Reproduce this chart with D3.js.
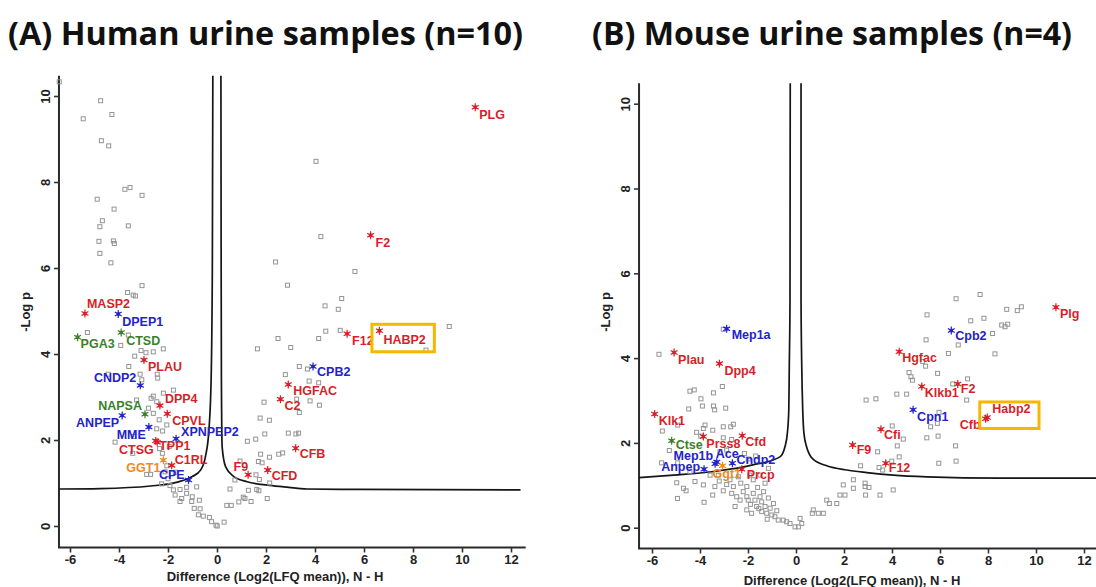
<!DOCTYPE html>
<html>
<head>
<meta charset="utf-8">
<script src="https://cdn.jsdelivr.net/npm/d3@7"></script>
<style>
  body { margin: 0; background: #fff; }
  svg { display: block; }
  .tick text, .axis-title { font-family: "Liberation Sans", Arial, sans-serif; font-weight: bold; font-size: 13px; fill: #222; }
  .tick line { stroke: #333; stroke-width: 1.6; }
  .title { font-family: "Open Sans", "Noto Sans", sans-serif; font-weight: bold; font-size: 32px; fill: #111; }
  .hit-label { font-family: "Liberation Sans", Arial, sans-serif; font-weight: bold; font-size: 12.5px; }
</style>
</head>
<body>
<svg id="chart" width="1096" height="587"></svg>
<script>
// ticks shared by both panels
const xTicks = [-6, -4, -2, 0, 2, 4, 6, 8, 10, 12];
const yTicks = [0, 2, 4, 6, 8, 10];

// protease class -> colour
const classes = ["serine", "metallo", "aspartic", "threonine"];
const classColors = ["#d61f29", "#2323c9", "#3b7f2b", "#ee8a1f"];

// ---------- (A) human ----------
const humanBg = [
  [-6.44,10.33],[-4.75,9.89],[-5.46,9.47],[-4.29,9.57],[-4.72,8.96],[-4.42,8.84],[-3.76,7.83],[-3.55,7.87],
  [-3.06,7.69],[-4.89,7.60],[-4.20,7.37],[-4.68,7.10],[-4.78,6.96],[-3.62,6.98],[-4.82,6.62],[-4.23,6.63],
  [-4.19,6.57],[-4.78,6.34],[-4.33,6.12],[-3.06,5.59],[-3.65,5.43],[-3.42,5.37],[-3.33,5.35],
  [2.39,6.14],[4.04,8.48],[4.24,6.73],[5.63,5.92],[2.88,5.60],[5.09,5.29],[4.41,5.12],[4.95,5.04],
  [4.44,4.53],[5.03,4.55],[9.48,4.64],[8.53,4.09],[2.49,4.36],[4.15,4.36],[1.65,4.12],[3.01,4.15],
  [3.36,3.71],[3.69,3.65],[2.79,3.52],[3.76,3.37],[4.15,3.33],[3.25,2.95],[1.92,2.88],[3.80,2.91],
  [4.18,2.81],[3.36,2.64],[1.76,2.51],[2.14,2.46],[1.95,2.14],[2.91,2.16],[3.22,2.14],[3.33,2.16],
  [1.58,2.02],[1.24,1.97],[1.78,1.67],[2.14,1.60],[2.52,1.67],[2.68,1.70],[0.94,1.51],[1.69,1.50],
  [1.84,1.47],[1.59,1.19],[0.73,1.07],[1.73,1.08],[2.15,1.00],[0.53,0.86],[1.28,0.83],[1.62,0.85],
  [1.71,0.82],[2.05,0.64],[1.07,0.67],[1.14,0.64],[1.39,0.57],[0.89,0.56],[0.40,0.48],[0.58,0.48],
  [0.01,0.00],[0.29,0.09],
  [-5.29,4.50],[-3.62,4.44],[-3.93,4.20],[-3.10,4.08],[-2.90,4.03],[-2.60,4.05],[-2.19,4.12],[-3.36,3.95],
  [-3.60,3.71],[-4.44,3.53],[-3.14,3.53],[-2.44,3.53],[-2.42,3.44],[-3.07,3.40],[-1.78,3.16],[-2.19,3.09],
  [-2.60,3.02],[-2.69,2.97],[-3.28,2.93],[-2.46,2.89],[-2.80,2.74],[-2.60,2.62],[-2.36,2.47],[-2.46,2.26],
  [-2.22,2.21],[-2.05,2.35],[-4.16,1.95],[-3.41,2.08],[-3.44,1.69],[-2.23,1.69],[-1.95,1.85],[-2.35,1.80],
  [-2.12,1.26],[-2.05,1.40],[-1.70,1.25],[-2.87,1.20],[-2.71,1.20],[-2.26,0.98],[-1.92,0.94],[-2.00,1.10],
  [-1.78,0.84],[-1.51,0.85],[-1.24,0.90],[-0.83,0.91],[-1.71,0.72],[-1.24,0.76],[-1.01,0.68],[-1.44,0.64],
  [-1.51,0.57],[-1.03,0.57],[-0.72,0.60],[-0.93,0.41],[-0.69,0.40],[-0.76,0.26],[-0.56,0.23],[-0.31,0.20],
  [-0.22,0.10],[-0.04,0.02]
];
const humanHits = [
  {name: "PLG", x: 10.54, y: 9.74, cls: "serine"},
  {name: "F2", x: 6.27, y: 6.76, cls: "serine"},
  {name: "HABP2", x: 6.63, y: 4.54, cls: "serine"},
  {name: "F12", x: 5.31, y: 4.47, cls: "serine"},
  {name: "CPB2", x: 3.92, y: 3.71, cls: "metallo"},
  {name: "HGFAC", x: 2.91, y: 3.29, cls: "serine"},
  {name: "C2", x: 2.59, y: 2.95, cls: "serine"},
  {name: "CFB", x: 3.21, y: 1.81, cls: "serine"},
  {name: "CFD", x: 2.07, y: 1.30, cls: "serine"},
  {name: "F9", x: 1.27, y: 1.19, cls: "serine"},
  {name: "MASP2", x: -5.39, y: 4.94, cls: "serine"},
  {name: "DPEP1", x: -4.03, y: 4.93, cls: "metallo"},
  {name: "PGA3", x: -5.69, y: 4.39, cls: "aspartic"},
  {name: "CTSD", x: -3.91, y: 4.50, cls: "aspartic"},
  {name: "PLAU", x: -2.98, y: 3.86, cls: "serine"},
  {name: "CNDP2", x: -3.13, y: 3.27, cls: "metallo"},
  {name: "DPP4", x: -2.33, y: 2.80, cls: "serine"},
  {name: "NAPSA", x: -2.94, y: 2.60, cls: "aspartic"},
  {name: "ANPEP", x: -3.87, y: 2.57, cls: "metallo"},
  {name: "CPVL", x: -2.03, y: 2.61, cls: "serine"},
  {name: "MME", x: -2.78, y: 2.30, cls: "metallo"},
  {name: "XPNPEP2", x: -1.67, y: 2.03, cls: "metallo"},
  {name: "CTSG", x: -2.50, y: 1.98, cls: "serine"},
  {name: "TPP1", x: -2.44, y: 1.95, cls: "serine"},
  {name: "GGT1", x: -2.19, y: 1.53, cls: "threonine"},
  {name: "C1RL", x: -1.85, y: 1.41, cls: "serine"},
  {name: "CPE", x: -1.16, y: 1.07, cls: "metallo"}
];
// significance curve
const humanCurveL = [[-6.45,0.86],[-4.76,0.87],[-2.71,0.93],[-1.62,1.02],[-1.01,1.15],[-0.67,1.30],
  [-0.47,1.62],[-0.33,2.23],[-0.24,3.40],[-0.19,6.0],[-0.17,10.47]];
const humanCurveR = [[0.16,10.47],[0.17,6.0],[0.18,3.40],[0.21,1.84],[0.35,1.38],[0.69,1.15],[1.23,1.03],
  [2.05,0.95],[2.73,0.91],[3.68,0.86],[5.79,0.85],[12.39,0.84]];

// ---------- (B) mouse ----------
const mouseBg = [
  [-3.03,4.68],[-5.71,4.09],[-3.07,3.33],[-4.42,3.22],[-4.24,3.25],[-3.44,3.18],[-3.96,3.04],[-4.47,2.80],
  [-3.90,2.87],[-3.44,2.87],[-3.39,2.78],[-2.93,2.82],[-4.93,2.42],[-5.57,2.28],[-3.79,2.42],[-3.86,2.34],
  [-3.47,2.30],[-3.03,2.38],[-2.61,2.44],[-2.72,2.38],[-4.14,2.25],[-3.97,2.16],[-3.03,2.12],[-2.68,2.08],
  [-5.28,1.82],[-3.17,1.79],[-2.89,1.83],[-2.15,1.75],[-1.68,1.69],[-1.99,1.62],[-5.60,1.53],[-4.93,1.53],
  [-4.42,1.32],[-3.58,1.24],[-3.24,1.24],[-2.75,1.13],[-2.40,1.20],[-1.92,1.24],[-1.50,1.24],[-1.15,1.40],
  [-4.97,1.06],[-4.69,0.93],[-4.58,0.87],[-4.94,0.69],[-4.21,1.09],[-3.86,1.01],[-3.83,0.60],[-3.47,0.77],
  [-3.38,0.97],[-3.03,0.87],[-2.89,1.02],[-2.61,0.97],[-2.68,0.81],[-2.47,0.73],[-2.54,0.50],[-2.33,0.65],
  [-2.05,0.97],[-2.05,0.73],[-1.99,0.65],[-1.78,0.81],[-1.71,0.65],[-1.64,0.50],[-1.50,0.73],[-1.43,0.61],
  [-2.05,0.42],[-1.85,0.34],[-1.43,0.38],[-1.29,0.50],[-1.22,0.34],[-1.08,0.46],[-1.01,0.30],[-0.88,0.26],
  [-0.74,0.18],[-0.53,0.18],[-0.39,0.14],[-0.25,0.10],[-0.04,0.02],[0.10,0.02],[0.24,0.10],[0.17,0.22],
  [-0.94,0.57],[-1.29,1.05],[-1.78,1.13],[-1.60,0.95],[-1.35,0.85],[-1.15,0.70],[-1.90,0.55],[-2.20,0.85],
  [-1.55,0.45],[-0.80,0.40],[-1.20,0.20],[-2.30,1.05],[-3.20,1.10],
  [0.72,0.42],[0.68,0.34],[0.93,0.34],[1.14,0.34],[1.28,0.65],[1.39,0.57],[1.70,0.57],[1.83,0.77],
  [2.04,0.77],[1.97,1.01],[2.39,1.13],[2.39,0.93],[2.88,0.97],[2.90,0.77],[2.69,1.46],[2.92,3.01],
  [3.33,3.04],
  [9.39,5.21],[9.22,5.12],[8.78,5.15],[7.83,4.94],[7.28,4.88],[5.46,5.02],[8.57,4.78],[8.71,4.74],
  [8.82,4.80],[8.19,4.58],[6.76,4.31],[5.42,4.43],[8.29,4.10],[6.35,4.11],[5.28,3.92],[5.40,3.81],
  [4.71,3.66],[4.79,3.56],[4.85,3.48],[5.90,3.64],[7.15,3.51],[6.53,3.39],[4.20,3.15],[4.61,3.15],
  [7.11,3.01],[5.96,2.72],[5.89,2.46],[5.61,2.38],[4.01,2.40],[4.47,2.09],[4.22,1.93],[5.45,2.12],
  [5.92,2.16],[6.65,1.93],[3.40,1.79],[4.30,1.67],[3.99,1.57],[3.46,1.42],[3.61,1.36],[5.95,1.52],
  [6.67,1.57],[2.88,1.05],[3.04,0.95],[3.50,0.77],[4.05,0.89],[6.67,5.40],[7.67,5.50]
];
const mouseHits = [
  {name: "Plg", x: 10.83, y: 5.20, cls: "serine"},
  {name: "Cpb2", x: 6.47, y: 4.65, cls: "metallo"},
  {name: "Hgfac", x: 4.30, y: 4.15, cls: "serine"},
  {name: "Klkb1", x: 5.24, y: 3.33, cls: "serine"},
  {name: "F2", x: 6.74, y: 3.39, cls: "serine"},
  {name: "Cpn1", x: 4.88, y: 2.78, cls: "metallo"},
  {name: "Habp2", x: 7.97, y: 2.60, cls: "serine"},
  {name: "Cfb", x: 7.90, y: 2.57, cls: "serine"},
  {name: "Cfi", x: 3.54, y: 2.32, cls: "serine"},
  {name: "F9", x: 2.36, y: 1.95, cls: "serine"},
  {name: "F12", x: 3.74, y: 1.52, cls: "serine"},
  {name: "Mep1a", x: -2.89, y: 4.69, cls: "metallo"},
  {name: "Plau", x: -5.08, y: 4.13, cls: "serine"},
  {name: "Dpp4", x: -3.19, y: 3.87, cls: "serine"},
  {name: "Klk1", x: -5.89, y: 2.68, cls: "serine"},
  {name: "Ctse", x: -5.18, y: 2.05, cls: "aspartic"},
  {name: "Prss8", x: -3.86, y: 2.15, cls: "serine"},
  {name: "Cfd", x: -2.24, y: 2.17, cls: "serine"},
  {name: "Mep1b", x: -3.37, y: 1.51, cls: "metallo"},
  {name: "Ace", x: -3.30, y: 1.55, cls: "metallo"},
  {name: "Cndp2", x: -2.65, y: 1.52, cls: "metallo"},
  {name: "Ggt1", x: -3.06, y: 1.46, cls: "threonine"},
  {name: "Anpep", x: -3.83, y: 1.38, cls: "metallo"},
  {name: "Prcp", x: -2.26, y: 1.38, cls: "serine"}
];
const mouseCurveL = [[-6.54,1.18],[-5.1,1.24],[-3.5,1.32],[-1.8,1.48],[-0.67,1.67],[-0.46,1.91],
  [-0.36,2.23],[-0.30,2.78],[-0.28,3.80],[-0.25,5.37],[-0.24,10.48]];
const mouseCurveR = [[0.21,10.48],[0.21,5.37],[0.24,3.80],[0.28,2.78],[0.33,2.23],[0.44,1.91],[0.72,1.61],
  [1.28,1.46],[2.11,1.36],[2.95,1.30],[4.05,1.24],[5.45,1.20],[8.5,1.17],[12.7,1.17]];

// label placement: [dx, dy, anchor]
const labelPosA = {
  PLG: [4, 12], F2: [5, 12], HABP2: [4, 13], F12: [5, 11], CPB2: [4, 10], HGFAC: [5, 10], C2: [4, 11],
  CFB: [4, 10], CFD: [4, 10], F9: [0, -4, "end"], MASP2: [2, -6], DPEP1: [4, 12], PGA3: [3, 11],
  CTSD: [5, 12], PLAU: [4, 11], CNDP2: [-4, -3, "end"], DPP4: [5, -3], NAPSA: [-3, -4, "end"],
  ANPEP: [-3, 12, "end"], CPVL: [5, 11], MME: [-3, 12, "end"], XPNPEP2: [5, -3], CTSG: [-2, 13, "end"],
  TPP1: [2, 8], GGT1: [-3, 12, "end"], C1RL: [3, -1], CPE: [-4, -1, "end"]
};
const labelPosB = {
  Plg: [4, 11], Cpb2: [4, 9], Hgfac: [3, 10], Klkb1: [3, 10], F2: [3, 9], Cpn1: [4, 11], Habp2: [5, -4],
  Cfb: [-5, 10, "end"], Cfi: [3, 10], F9: [4, 9], F12: [3, 9], Mep1a: [5, 10], Plau: [4, 11], Dpp4: [5, 11],
  Klk1: [4, 11], Ctse: [4, 8], Prss8: [3, 11], Cfd: [3, 10], Mep1b: [-2, -4, "end"], Ace: [-1, -4],
  Cndp2: [4, 1], Ggt1: [-10, 12], Anpep: [-4, 2, "end"], Prcp: [5, 10]
};

const svg = d3.select("#chart");
const color = d3.scaleOrdinal().domain(classes).range(classColors);

function drawPanel(p) {
  const g = svg.append("g");
  const x = d3.scaleLinear().domain([-6, 12]).range(p.xRange);
  const y = d3.scaleLinear().domain([0, 10]).range(p.yRange);

  // frame (L shaped)
  g.append("path")
    .attr("d", `M${x(p.xExt[0])},${y(p.yExt[1])}V${y(p.yExt[0])}H${x(p.xExt[1])}`)
    .attr("fill", "none").attr("stroke", "#2a2a2a").attr("stroke-width", 2);

  const xAxis = g.append("g")
    .attr("transform", `translate(0,${y(p.yExt[0])})`)
    .call(d3.axisBottom(x).tickValues(xTicks).tickSize(5).tickPadding(2).tickFormat(d => String(d)));
  xAxis.select(".domain").remove();

  const yAxis = g.append("g")
    .attr("transform", `translate(${x(p.xExt[0])},0)`)
    .call(d3.axisLeft(y).tickValues(yTicks).tickSize(5));
  yAxis.select(".domain").remove();
  yAxis.selectAll(".tick text")
    .attr("x", null).attr("dy", null)
    .attr("text-anchor", "middle")
    .attr("transform", "translate(-9,0) rotate(-90)");

  g.append("text").attr("class", "axis-title")
    .attr("text-anchor", "middle")
    .attr("transform", `translate(${p.yTitle[0]},${p.yTitle[1]}) rotate(-90)`)
    .text("-Log p");
  g.append("text").attr("class", "axis-title")
    .attr("text-anchor", "middle")
    .attr("x", p.xTitle[0]).attr("y", p.xTitle[1])
    .text("Difference (Log2(LFQ mean)), N - H");

  // threshold curves
  const line = d3.line().x(d => x(d[0])).y(d => y(d[1])).curve(d3.curveMonotoneX);
  [p.curveL, p.curveR].forEach(c => {
    g.append("path").attr("d", line(c))
      .attr("fill", "none").attr("stroke", "#151515").attr("stroke-width", 1.7);
  });

  // all proteins
  g.append("g").selectAll("rect").data(p.bg).join("rect")
    .attr("x", d => x(d[0]) - 2).attr("y", d => y(d[1]) - 2)
    .attr("width", 4).attr("height", 4)
    .attr("fill", "none").attr("stroke", "#949494").attr("stroke-width", 1);

  // proteases
  const star = d3.symbol(d3.symbolAsterisk, 44);
  const hits = g.append("g").selectAll("g").data(p.hits).join("g")
    .attr("transform", d => `translate(${x(d.x)},${y(d.y)})`);
  hits.append("path").attr("d", star)
    .attr("fill", "none").attr("stroke", d => color(d.cls)).attr("stroke-width", 1.2);
  hits.append("rect").attr("x", -1.7).attr("y", -1.7).attr("width", 3.4).attr("height", 3.4)
    .attr("fill", d => color(d.cls));

  const labels = g.append("g").selectAll("text").data(p.hits).join("text")
    .attr("class", "hit-label")
    .attr("x", d => x(d.x) + p.labelPos[d.name][0])
    .attr("y", d => y(d.y) + p.labelPos[d.name][1])
    .attr("text-anchor", d => p.labelPos[d.name][2] || "start")
    .attr("fill", d => color(d.cls))
    .text(d => d.name);

  // highlight box round the marked protease
  labels.filter(d => d.name === p.highlight).each(function (d) {
    const b = this.getBBox();
    const x0 = Math.min(b.x, x(d.x) - 4) - 3.5;
    const y0 = Math.min(b.y + 2, y(d.y) - 4) - 2.5;
    const x1 = Math.max(b.x + b.width, x(d.x) + 4) + 8.5;
    const y1 = Math.max(b.y + b.height - 2, y(d.y) + 4) + 7;
    g.append("rect")
      .attr("x", x0).attr("y", y0).attr("width", x1 - x0).attr("height", y1 - y0)
      .attr("fill", "none").attr("stroke", "#f6b700").attr("stroke-width", 3);
  });

  svg.append("text").attr("class", "title")
    .attr("x", p.title[0]).attr("y", p.title[1])
    .attr("textLength", p.title[2]).attr("lengthAdjust", "spacingAndGlyphs")
    .text(p.titleText);
}

drawPanel({
  xRange: [70, 511], yRange: [526, 96], xExt: [-6.45, 12.6], yExt: [-0.5, 10.47],
  bg: humanBg, hits: humanHits, curveL: humanCurveL, curveR: humanCurveR,
  labelPos: labelPosA, highlight: "HABP2",
  yTitle: [30, 312], xTitle: [275, 581],
  title: [8, 45, 515], titleText: "(A) Human urine samples (n=10)"
});

drawPanel({
  xRange: [652, 1084], yRange: [527.7, 103.7], xExt: [-6.54, 12.8], yExt: [-0.49, 10.48],
  bg: mouseBg, hits: mouseHits, curveL: mouseCurveL, curveR: mouseCurveR,
  labelPos: labelPosB, highlight: "Habp2",
  yTitle: [610, 312], xTitle: [852, 585],
  title: [592, 45, 480], titleText: "(B) Mouse urine samples (n=4)"
});
</script>
</body>
</html>
